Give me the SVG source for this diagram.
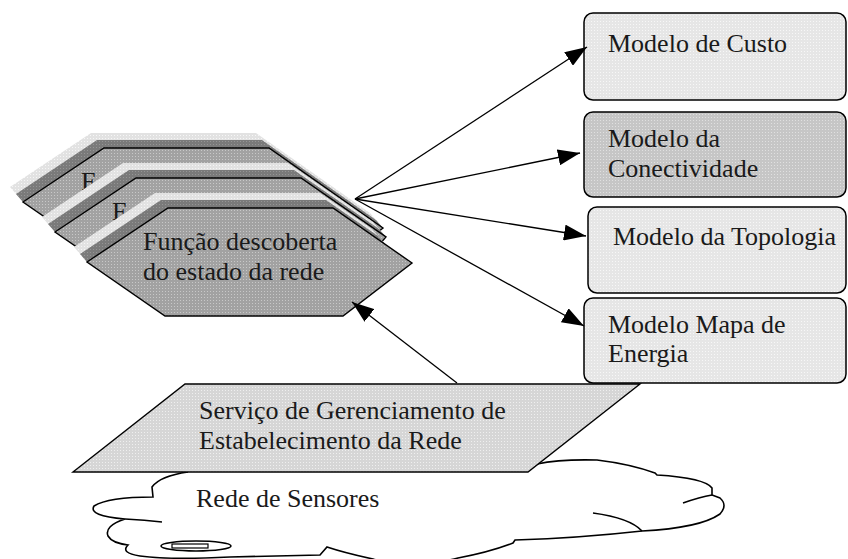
<svg xmlns="http://www.w3.org/2000/svg" width="848" height="559" viewBox="0 0 848 559">
<defs>
<pattern id="pFace" width="3" height="3" patternUnits="userSpaceOnUse"><rect width="3" height="3" fill="#a2a2a2"/><rect width="1" height="1" fill="#c8c8c8"/></pattern>
<pattern id="pDark" width="3" height="3" patternUnits="userSpaceOnUse"><rect width="3" height="3" fill="#7a7a7a"/><rect width="1" height="1" fill="#959595"/></pattern>
<pattern id="pLight" width="3" height="3" patternUnits="userSpaceOnUse"><rect width="3" height="3" fill="#e2e2e2"/><rect width="1" height="1" fill="#f6f6f6"/></pattern>
<pattern id="pBox" width="3" height="3" patternUnits="userSpaceOnUse"><rect width="3" height="3" fill="#e6e6e6"/><rect width="1" height="1" fill="#f7f7f7"/></pattern>
<pattern id="pBoxDark" width="3" height="3" patternUnits="userSpaceOnUse"><rect width="3" height="3" fill="#c6c6c6"/><rect width="1" height="1" fill="#e0e0e0"/></pattern>
<pattern id="pPar" width="3" height="3" patternUnits="userSpaceOnUse"><rect width="3" height="3" fill="#d6d6d6"/><rect width="1" height="1" fill="#efefef"/></pattern>
<marker id="ah" markerWidth="22" markerHeight="16" refX="22" refY="8" orient="auto" markerUnits="userSpaceOnUse"><path d="M0,0 L22,8 L0,16 z" fill="#000"/></marker>
</defs>
<style>
.t{font-size:26px;fill:#1a1a1a}
.face{fill:url(#pFace);stroke:#000;stroke-width:1.4}
.dark{fill:url(#pDark)}
.light{fill:url(#pLight)}
.box{fill:url(#pBox);stroke:#000;stroke-width:1.5}
.boxd{fill:url(#pBoxDark);stroke:#000;stroke-width:1.5}
.par{fill:url(#pPar);stroke:#000;stroke-width:1.4}
.cloud{fill:none;stroke:#000;stroke-width:1.6}
.conn{fill:none;stroke:#000;stroke-width:1.3;marker-end:url(#ah)}
</style>
<rect width="848" height="559" fill="#fff"/>
<g font-family="'Liberation Serif', 'DejaVu Serif', serif">

<g id="cloud-rede-sensores">
<path class="cloud" d="M188,472 Q160,476 152,487 L153,497 Q108,497 94,506 Q88,516 125,519 Q104,526 108,536 Q112,543 128,545 Q120,553 140,556 Q170,560 230,557 L320,555 L327,547 Q345,553 373,559 Q410,570 458,558 Q490,552 513,543 L515,540 Q580,538 642,531 Q700,528 720,514 Q728,505 720,498 L712,495 L712,488 Q705,478 657,475 L655,473 Q630,464 597,460 Q560,459 537,464"/>
<path class="cloud" d="M125,519 Q145,520 162,522"/>
<path class="cloud" d="M712,495 Q700,497 683,503"/>
<path class="cloud" d="M593,513 Q630,518 642,531"/>
<ellipse class="cloud" cx="196" cy="546" rx="35" ry="5"/>
<rect x="172" y="544" width="36" height="4" fill="none" stroke="#000" stroke-width="1.2"/>
<text class="t" x="196" y="507">Rede de Sensores</text>
</g>

<g id="servico-gerenciamento">
<polygon class="par" points="185,384 640,384 528,472 73,472"/>
<text class="t" x="199" y="419">Serviço de Gerenciamento de</text>
<text class="t" x="199" y="449">Estabelecimento da Rede</text>
</g>

<g id="card-back">
<polygon class="light" points="10,187 91,133 256,133 370,213 383,228 23,202"/>
<polygon class="dark" points="16,194 97,140 262,140 376,220 383,228 23,202"/>
<polygon class="face" points="23,202 104,148 269,148 383,228 330,270 101,256"/>
<text class="t" x="81" y="190">F</text>
</g>

<g id="card-middle">
<polygon class="light" points="42,217 123,163 288,163 373,222 386,237 55,232"/>
<polygon class="dark" points="48,224 129,170 294,170 379,229 386,237 55,232"/>
<polygon class="face" points="55,232 136,178 301,178 386,237 340,290 133,286"/>
<text class="t" x="112" y="220">F</text>
</g>

<g id="card-front">
<polygon class="light" points="74,247 155,193 320,193 372,229 385,244 87,262"/>
<polygon class="dark" points="80,254 161,200 326,200 378,236 385,244 87,262"/>
<polygon class="face" points="87,262 168,208 333,208 412,263 343,316 165,316"/>
<text class="t" x="143" y="250">Função descoberta</text>
<text class="t" x="143" y="280">do estado da rede</text>
</g>

<g id="modelo-custo">
<rect class="box" x="584" y="13" width="262" height="87" rx="9"/>
<text class="t" x="608" y="52">Modelo de Custo</text>
</g>
<g id="modelo-conectividade">
<rect class="boxd" x="584" y="112" width="262" height="85" rx="9"/>
<text class="t" x="608" y="147">Modelo da</text>
<text class="t" x="608" y="177">Conectividade</text>
</g>
<g id="modelo-topologia">
<rect class="box" x="588" y="207" width="258" height="86" rx="9"/>
<text class="t" x="613" y="245">Modelo da Topologia</text>
</g>
<g id="modelo-energia">
<rect class="box" x="584" y="298" width="262" height="85" rx="9"/>
<text class="t" x="608" y="333">Modelo Mapa de</text>
<text class="t" x="608" y="362">Energia</text>
</g>

<g id="connectors">
<line class="conn" x1="355" y1="199" x2="587" y2="47"/>
<line class="conn" x1="355" y1="199" x2="580" y2="153"/>
<line class="conn" x1="355" y1="199" x2="586" y2="236"/>
<line class="conn" x1="355" y1="199" x2="584" y2="326"/>
<line class="conn" x1="457" y1="383" x2="352" y2="302"/>
</g>
</g>
</svg>
